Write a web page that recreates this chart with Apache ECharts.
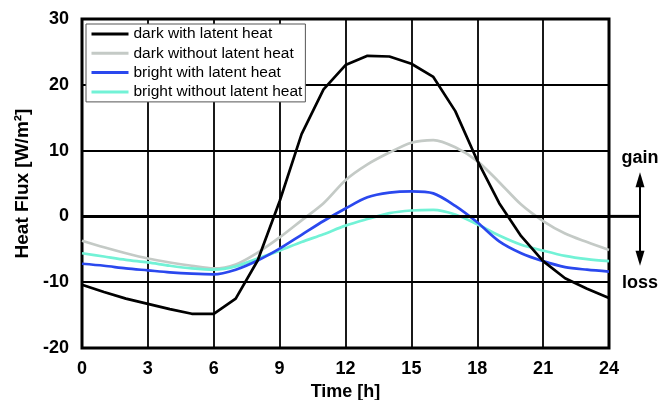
<!DOCTYPE html>
<html>
<head>
<meta charset="utf-8">
<script src="https://cdn.jsdelivr.net/npm/echarts@6/dist/echarts.min.js"></script>
<style>
html, body {margin:0; padding:0; background:#fff;}
#chart {width:666px; height:400px;}
</style>
</head>
<body>
<div id="chart"></div>
<script>
var hours = [0,1,2,3,4,5,6,7,8,9,10,11,12,13,14,15,16,17,18,19,20,21,22,23,24];
var xTicks = ['0','3','6','9','12','15','18','21','24'];
var seriesNames = ['dark with latent heat','dark without latent heat','bright with latent heat','bright without latent heat'];

var darkLatent = [-10.4,-11.5,-12.5,-13.3,-14.1,-14.8,-14.8,-12.5,-6.7,2.3,12.5,19.3,23.0,24.4,24.3,23.2,21.2,16.0,8.5,2.0,-3.0,-6.8,-9.4,-11.0,-12.4];
var darkNoLatent = [-3.7,-4.7,-5.6,-6.4,-7.0,-7.5,-7.9,-7.3,-5.5,-3.2,-0.6,2.0,5.5,7.9,9.7,11.2,11.6,10.5,8.4,5.2,1.8,-0.7,-2.6,-3.9,-5.1];
var brightLatent = [-7.2,-7.5,-7.9,-8.2,-8.5,-8.7,-8.8,-8.1,-6.7,-4.9,-2.8,-0.7,1.2,2.9,3.6,3.8,3.5,1.6,-0.9,-3.8,-5.6,-6.8,-7.7,-8.1,-8.4];
var brightNoLatent = [-5.6,-6.1,-6.6,-7.0,-7.5,-7.9,-8.1,-7.6,-6.4,-5.2,-3.9,-2.7,-1.4,-0.4,0.5,0.9,1.0,0.3,-1.2,-2.9,-4.3,-5.2,-6.0,-6.5,-6.8];

var colors = ['#000000','#c4cac6','#2a48ee','#72f2d6'];

var pairs = function(ys){
    var out = [];
    for(var i = 0; i < hours.length; i++){
        out.push([hours[i], ys[i]]);
    }
    return out;
}

var getSeries = function(idx, data, smooth){
    return {
        name: seriesNames[idx],
        type: 'line',
        symbol: 'none',
        smooth: smooth,
        color: colors[idx],
        lineStyle: {width: 2.7, color: colors[idx]},
        data: pairs(data)
    };
}

var font = 'Arial, "Liberation Sans", sans-serif';

var option = {
    animation: false,
    backgroundColor: '#fff',
    grid: {left: 82, right: 57, top: 19, bottom: 52, show: true, borderColor: '#000', borderWidth: 3,
        containLabel: false, outerBoundsMode: 'none'},
    legend: {
        orient: 'vertical',
        left: 86, top: 24,
        padding: [2, 3, 2, 4],
        itemWidth: 37, itemHeight: 14, itemGap: 3.3,
        itemStyle: {opacity: 0},
        lineStyle: {width: 3},
        backgroundColor: '#fff',
        borderColor: '#555', borderWidth: 1, borderRadius: 0,
        textStyle: {fontFamily: font, fontSize: 15.5, color: '#000'},
        data: seriesNames
    },
    xAxis: {
        type: 'value', min: 0, max: 24, interval: 3,
        name: 'Time [h]', nameLocation: 'middle', nameGap: 34,
        nameTextStyle: {fontFamily: font, fontSize: 18, fontWeight: 'bold', color: '#000'},
        axisLine: {show: false}, axisTick: {show: false},
        axisLabel: {margin: 12, fontFamily: font, fontSize: 18, fontWeight: 'bold', color: '#000',
            formatter: function(v){ return xTicks[v / 3]; }},
        splitLine: {show: true, lineStyle: {color: '#000', width: 1.8}}
    },
    yAxis: {
        type: 'value', min: -20, max: 30, interval: 10,
        name: 'Heat Flux [W/m\u00b2]', nameLocation: 'middle', nameGap: 50,
        nameTextStyle: {fontFamily: font, fontSize: 19, fontWeight: 'bold', color: '#000'},
        axisLine: {show: false}, axisTick: {show: false},
        axisLabel: {margin: 13, fontFamily: font, fontSize: 18, fontWeight: 'bold', color: '#000'},
        splitLine: {show: true, lineStyle: {color: '#000', width: 1.8}}
    },
    series: [
        getSeries(1, darkNoLatent, 0.3),
        getSeries(3, brightNoLatent, 0.3),
        getSeries(2, brightLatent, 0.3),
        getSeries(0, darkLatent, false)
    ]
};

// zero line drawn as markLine on the first series
option.series[0].markLine = {
    silent: true, symbol: 'none', label: {show: false},
    lineStyle: {color: '#000', width: 3, type: 'solid'},
    data: [{yAxis: 0}]
};

var chart = echarts.init(document.getElementById('chart'));
chart.setOption(option);

// gain / loss annotation on the right, placed from the y scale
var p0 = chart.convertToPixel({gridIndex: 0}, [24, 0]);
var pTop = chart.convertToPixel({gridIndex: 0}, [24, 6.7]);
var pBot = chart.convertToPixel({gridIndex: 0}, [24, -7.5]);
var ax = p0[0] + 31;
chart.setOption({
    graphic: [
        {type: 'line', shape: {x1: p0[0], y1: p0[1], x2: ax, y2: p0[1]}, style: {stroke: '#000', lineWidth: 3}},
        {type: 'line', shape: {x1: ax, y1: pTop[1] + 10, x2: ax, y2: pBot[1] - 10}, style: {stroke: '#000', lineWidth: 2}},
        {type: 'polygon', shape: {points: [[ax, pTop[1]], [ax - 4.5, pTop[1] + 15], [ax + 4.5, pTop[1] + 15]]}, style: {fill: '#000'}},
        {type: 'polygon', shape: {points: [[ax, pBot[1]], [ax - 4.5, pBot[1] - 15], [ax + 4.5, pBot[1] - 15]]}, style: {fill: '#000'}},
        {type: 'text', x: ax, y: pTop[1] - 14, style: {text: 'gain', fill: '#000', font: 'bold 18px ' + font, align: 'center', verticalAlign: 'middle'}},
        {type: 'text', x: ax, y: pBot[1] + 17, style: {text: 'loss', fill: '#000', font: 'bold 18px ' + font, align: 'center', verticalAlign: 'middle'}}
    ]
});
</script>
</body>
</html>
